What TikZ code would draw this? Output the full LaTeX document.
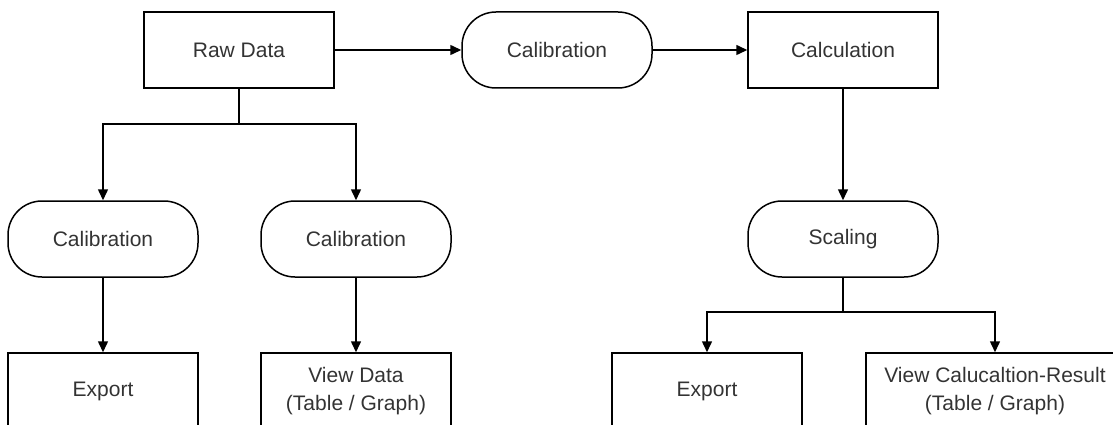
\documentclass[tikz,border=0pt]{standalone}
\usepackage{fontspec}
\setmainfont{Liberation Sans}
\usetikzlibrary{arrows.meta}

\tikzset{
  box/.style={draw, line width=1.5pt, minimum width=190pt, minimum height=76pt,
    inner sep=0pt, align=center, text=black!80, font=\fontsize{21}{28}\selectfont},
  term/.style={box, rounded corners=34pt},
  arr/.style={line width=1.5pt, -{Triangle[length=11pt,width=10pt]}},
  link/.style={line width=1.5pt}
}

\begin{document}
\begin{tikzpicture}[x=1pt,y=-1pt]
  \useasboundingbox (0,0) rectangle (1113,425);
  \clip (0,0) rectangle (1113,425);

  % top row
  \node[box]  (raw)   at (239,50) {Raw Data};
  \node[term] (calib) at (557,50) {Calibration};
  \node[box]  (calc)  at (843,50) {Calculation};

  % middle row
  \node[term] (calA)    at (103,239) {Calibration};
  \node[term] (calB)    at (356,239) {Calibration};
  \node[term] (scaling) at (843,239) {Scaling};

  % bottom row
  \node[box] (exportA)  at (103,391) {Export};
  \node[box] (viewdata) at (356,391) {View Data\\(Table / Graph)};
  \node[box] (exportB)  at (707,391) {Export};
  \node[box, minimum width=258pt] (viewcalc) at (995,391) {View Calucaltion-Result\\(Table / Graph)};

  \coordinate (rawsplit) at (239,124);
  \coordinate (scalesplit) at (843,312);

  \draw[arr] (raw) -- (calib);
  \draw[arr] (calib) -- (calc);
  \draw[arr] (calc) -- (scaling);

  \draw[link] (raw) -- (rawsplit);
  \draw[arr] (rawsplit) -| (calA);
  \draw[arr] (rawsplit) -| (calB);
  \draw[arr] (calA) -- (exportA);
  \draw[arr] (calB) -- (viewdata);

  \draw[link] (scaling) -- (scalesplit);
  \draw[arr] (scalesplit) -| (exportB);
  \draw[arr] (scalesplit) -| (viewcalc);
\end{tikzpicture}
\end{document}
